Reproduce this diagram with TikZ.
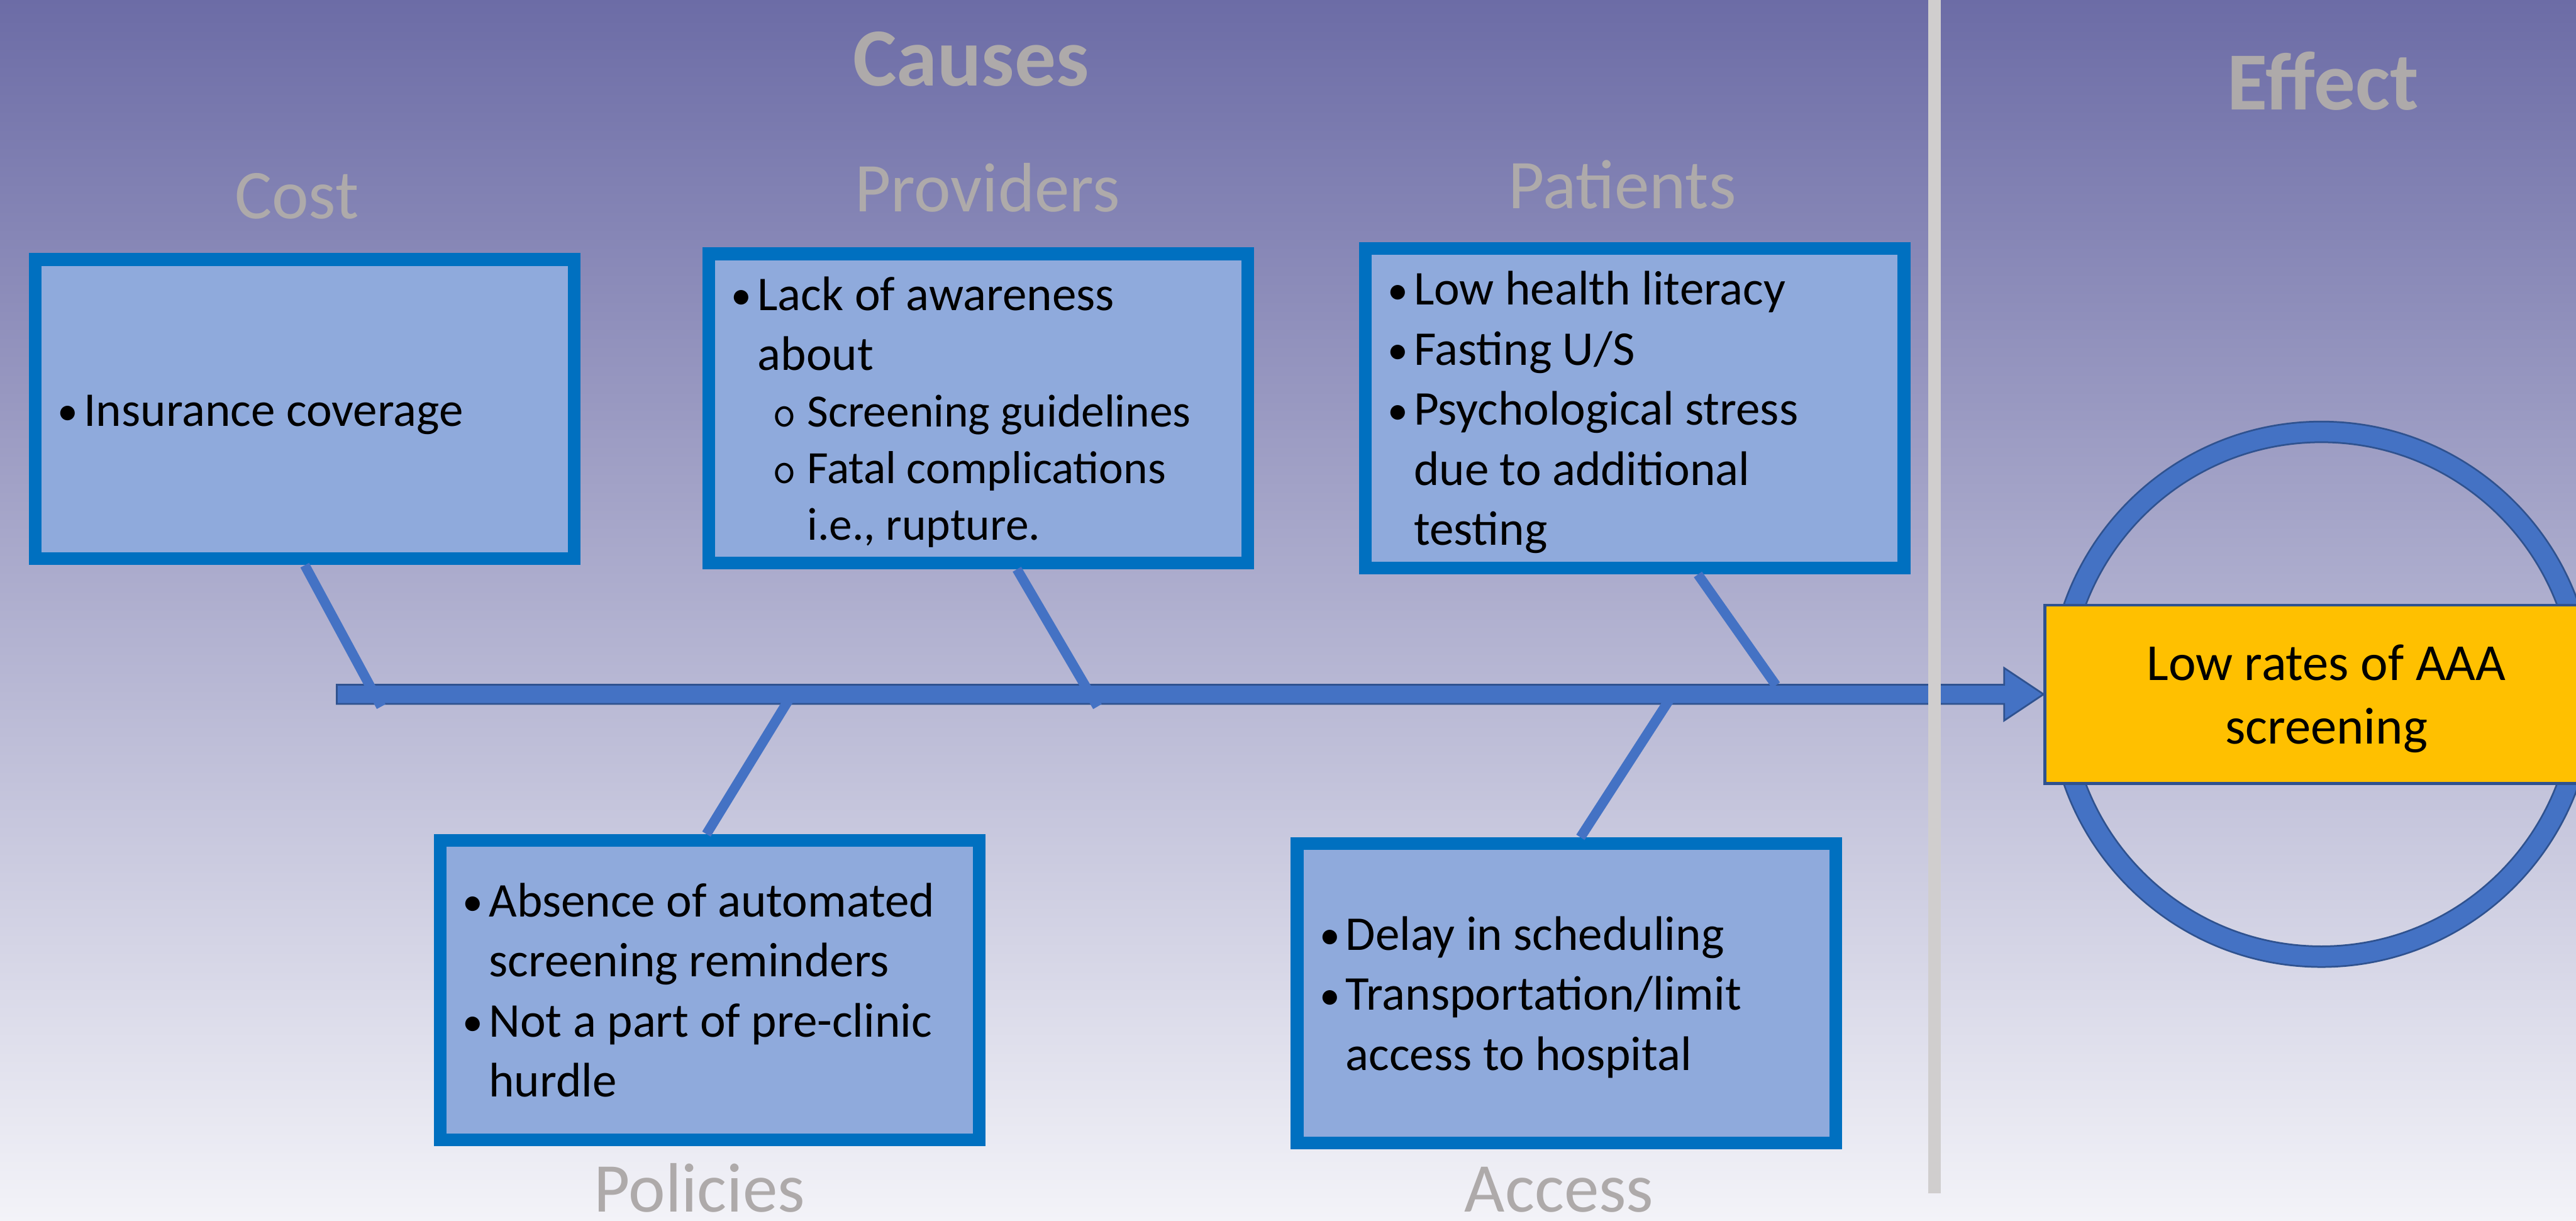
\documentclass[tikz,border=0pt]{standalone}
\usepackage{fontspec}
\setmainfont{Carlito}
\usetikzlibrary{calc}

\definecolor{bgtop}{RGB}{108,108,166}
\definecolor{bgbottom}{RGB}{243,243,248}
\definecolor{labelgray}{RGB}{174,170,170}
\definecolor{boxfill}{RGB}{143,170,220}
\definecolor{boxline}{RGB}{0,112,192}
\definecolor{accentblue}{RGB}{68,114,196}
\definecolor{edgeblue}{RGB}{47,82,143}
\definecolor{effectfill}{RGB}{255,192,0}
\definecolor{divider}{RGB}{208,206,206}

\newcommand{\boxfont}{\fontsize{16.8}{20.8}\selectfont
	\setbox\strutbox\hbox{\vrule height 16.2pt depth 4.6pt width 0pt}}
\newenvironment{pointlist}{\begin{tabular}{@{}p{0.32cm}@{}p{0.604cm}@{}p{5.092cm}@{}}}{\end{tabular}}
\newcommand{\dotmark}{\raisebox{0.3pt}{\scalebox{0.85}{\textbullet}}}
\newcommand{\ringmark}{\hspace*{0.18cm}{\ttfamily\fontsize{16}{19.6}\selectfont o}}
\newcommand{\full}[1]{\multicolumn{2}{@{}p{5.696cm}@{}}{#1}}
\newcommand{\subtext}[1]{{\fontsize{16}{19.6}\selectfont #1}}

\begin{document}
\begin{tikzpicture}[x=0.02cm,y=-0.02cm,
	causebox/.style={rectangle,draw=boxline,line width=4.4pt,fill=boxfill,
		minimum width=6.56cm,minimum height=3.644cm,font=\boxfont},
	catlabel/.style={anchor=base,text=labelgray,font=\fontsize{24.2}{29}\selectfont},
	headline/.style={anchor=base,text=labelgray,font=\bfseries\fontsize{28.6}{34}\selectfont},
	rib/.style={draw=accentblue,line width=0.12cm},
	spine/.style={fill=accentblue,draw=edgeblue,line width=0.6pt},
	ring/.style={draw=edgeblue,line width=0.6pt,double=accentblue,double distance=0.23cm}]
	\useasboundingbox (0,0) rectangle (1568,742.7);
	\clip (0,0) rectangle (1568,742.7);
	\shade[top color=bgtop,bottom color=bgbottom] (0,0) rectangle (1568,742.7);

	\draw[ring] (1413,422.5) circle[radius=3.194cm];
	\node[rectangle,draw=edgeblue,line width=1pt,fill=effectfill,minimum width=6.85cm,minimum height=2.17cm,
		align=center,text depth=-3.4pt,font=\fontsize{18}{21.9}\selectfont] (effect) at (1416,422.5) {Low rates of AAA\\screening};

	\coordinate (tail) at (205,422.5);
	\filldraw[spine] ($(tail)+(0,-5.85)$) -- ($(effect.west)+(-24,-5.85)$) -- ($(effect.west)+(-24,-16)$)
		-- (effect.west) -- ($(effect.west)+(-24,16)$) -- ($(effect.west)+(-24,5.85)$) -- ($(tail)+(0,5.85)$) -- cycle;
	\draw[divider,line width=0.15cm] (1177.5,0) -- (1177.5,726);

	\node[causebox] (cost) at (185.5,249) {\begin{pointlist}
		\dotmark & \full{Insurance coverage}
	\end{pointlist}};
	\node[causebox] (prov) at (595.5,248.5) {\begin{pointlist}
		\dotmark & \full{Lack of awareness}\\
		& \full{about}\\[-1.2pt]
		& \ringmark & \subtext{Screening guidelines}\\[-1.2pt]
		& \ringmark & \subtext{Fatal complications}\\[-1.2pt]
		& & \subtext{i.e., rupture.}
	\end{pointlist}};
	\node[causebox] (pat) at (995,248.5) {\begin{pointlist}
		\dotmark & \full{Low health literacy}\\
		\dotmark & \full{Fasting U/S}\\
		\dotmark & \full{Psychological stress}\\
		& \full{due to additional}\\
		& \full{testing}
	\end{pointlist}};
	\node[causebox] (pol) at (432,602.5) {\begin{pointlist}
		\dotmark & \full{Absence of automated}\\
		& \full{screening reminders}\\
		\dotmark & \full{Not a part of pre-clinic}\\
		& \full{hurdle}
	\end{pointlist}};
	\node[causebox] (acc) at (953.5,604.5) {\begin{pointlist}
		\dotmark & \full{Delay in scheduling}\\
		\dotmark & \full{Transportation/limit}\\
		& \full{access to hospital}
	\end{pointlist}};

	\coordinate (costjoin) at (232,430);
	\coordinate (provjoin) at (668,430);
	\coordinate (patjoin) at (1081,417);
	\coordinate (poljoin) at (480,426);
	\coordinate (accjoin) at (1016,426);
	\draw[rib] (cost.south) -- (costjoin);
	\draw[rib] ([xshift=0.47cm]prov.south) -- (provjoin);
	\draw[rib] ([xshift=0.77cm]pat.south) -- (patjoin);
	\draw[rib] ([xshift=-0.04cm]pol.north) -- (poljoin);
	\draw[rib] ([xshift=0.17cm]acc.north) -- (accjoin);

	\node[headline] (causes) at (591,52.4) {Causes};
	\node[headline] (effecthead) at (1414,66.8) {Effect};
	\node[catlabel] (costlabel) at (180.6,133) {Cost};
	\node[catlabel] (provlabel) at (601,128.8) {Providers};
	\node[catlabel] (patlabel) at (987.4,127) {Patients};
	\node[catlabel] (pollabel) at (425.8,737.5) {Policies};
	\node[catlabel] (acclabel) at (949,737.5) {Access};
\end{tikzpicture}
\end{document}
